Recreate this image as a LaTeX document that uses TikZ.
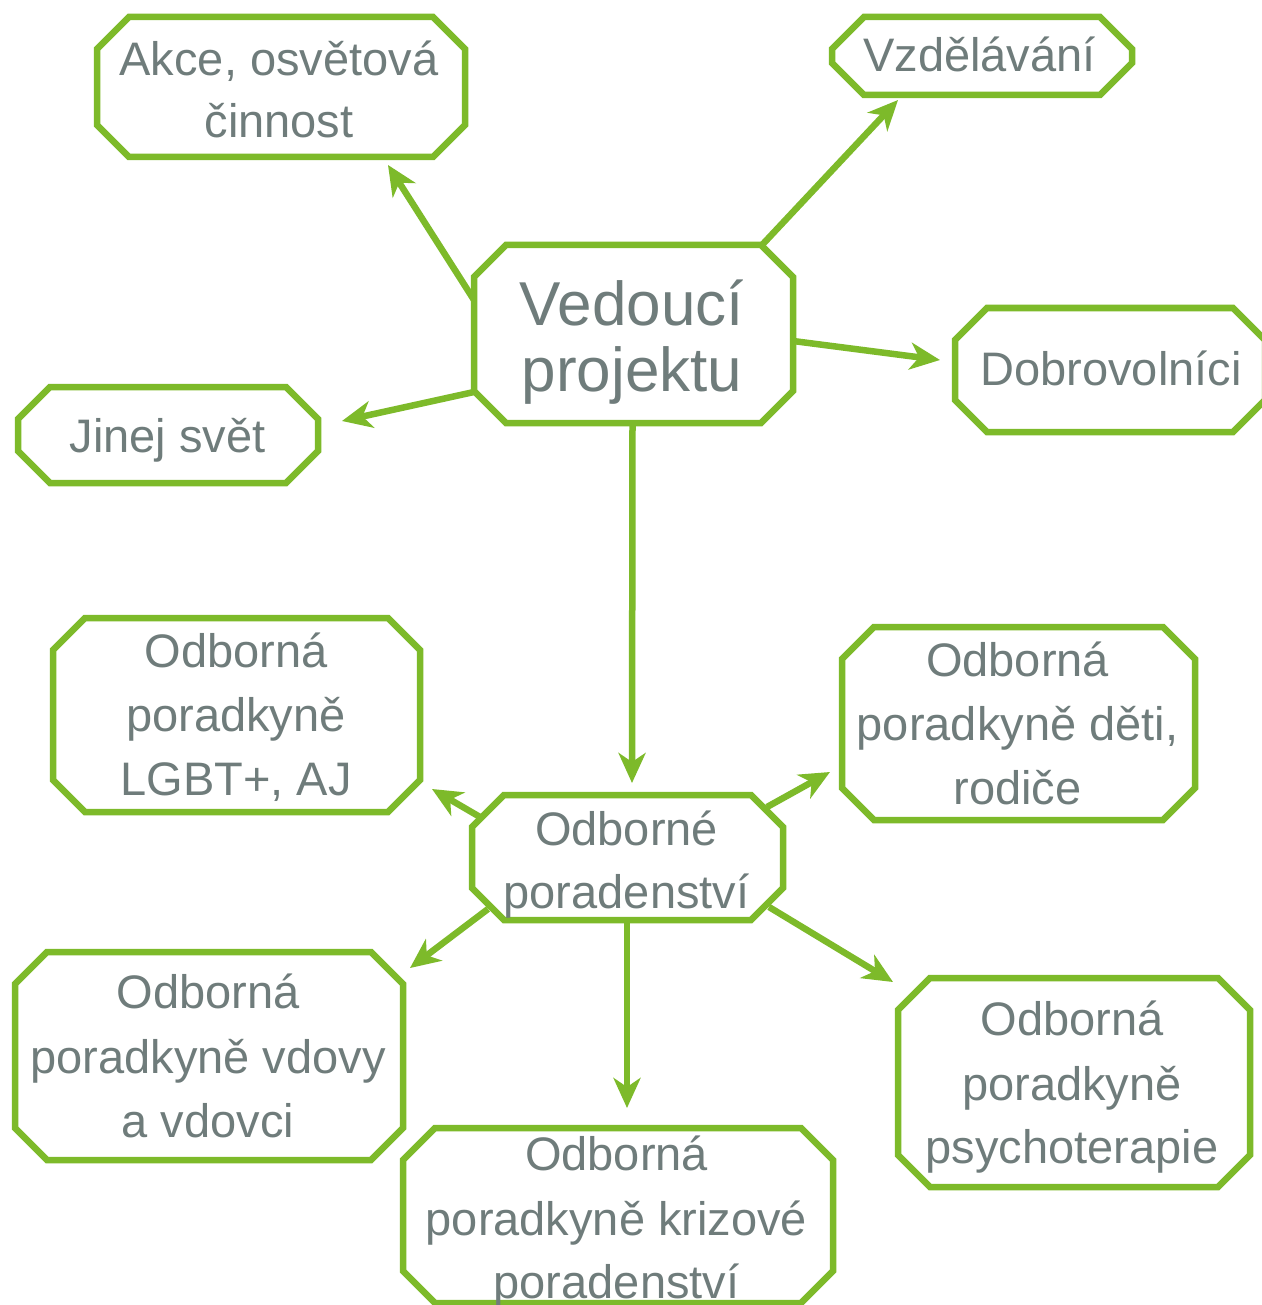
\documentclass[tikz,border=0pt]{standalone}
\usepackage{fontspec}
\setmainfont{Liberation Sans}
\usetikzlibrary{arrows.meta,calc}
\definecolor{grn}{RGB}{125,186,42}
\definecolor{txtgray}{RGB}{111,124,123}
\newcommand\octo[2][32pt]{%
  \draw[boxline] ($(#2.north west)+(#1,0pt)$) -- ($(#2.north east)+(-#1,0pt)$)
    -- ($(#2.north east)+(0pt,-#1)$) -- ($(#2.south east)+(0pt,#1)$)
    -- ($(#2.south east)+(-#1,0pt)$) -- ($(#2.south west)+(#1,0pt)$)
    -- ($(#2.south west)+(0pt,#1)$) -- ($(#2.north west)+(0pt,-#1)$) -- cycle;}
\begin{document}
\begin{tikzpicture}[x=1pt,y=-1pt,
  frame/.style 2 args={rectangle, draw=none, inner sep=0pt, outer sep=0pt,
    minimum width=#1, minimum height=#2},
  boxline/.style={draw=grn, fill=white, line width=6.5pt, line join=miter},
  txt/.style={font=\fontsize{47}{56}\selectfont, text=txtgray, anchor=base, inner sep=0pt},
  bigtxt/.style={font=\fontsize{62}{70}\selectfont, text=txtgray, anchor=base, inner sep=0pt},
  arr/.style={draw=grn, line width=6.5pt,
    -{Stealth[length=30pt,width=27pt,inset=9pt]}}]
\fill[white] (0,0) rectangle (1261,1305);
\useasboundingbox (0,0) rectangle (1261,1305);

% box frames
\node[frame={368pt}{140pt}] (akce) at (281,87) {};
\node[frame={300pt}{78pt}] (vzd) at (982,56) {};
\node[frame={319pt}{178pt}] (ved) at (633.5,334) {};
\node[frame={310pt}{124pt}] (dob) at (1110,370) {};
\node[frame={300pt}{96pt}] (jinej) at (168,435) {};
\node[frame={367pt}{194pt}] (lgbt) at (236.5,715) {};
\node[frame={353pt}{193pt}] (deti) at (1018.5,723.5) {};
\node[frame={311pt}{125pt}] (op) at (627.5,857.5) {};
\node[frame={388pt}{208pt}] (vdovy) at (209,1056) {};
\node[frame={352pt}{209pt}] (psy) at (1074,1082.5) {};
\node[frame={430pt}{175pt}] (kriz) at (618,1215.5) {};

% octagons
\octo{akce}
\octo{vzd}
\octo{ved}
\octo{dob}
\octo{jinej}
\octo{lgbt}
\octo{deti}
\octo{op}
\octo{vdovy}
\octo{psy}
\octo{kriz}

% connectors
\draw[arr] ($(ved.west)+(0pt,34pt)$) -- ($(akce.south east)+(-77pt,-8pt)$);
\draw[arr] ($(ved.north east)+(-31pt,0pt)$) -- ($(vzd.south west)+(66pt,-5pt)$);
\draw[arr] ($(ved.east)+(0pt,-7pt)$) -- ($(dob.west)+(-15pt,10pt)$);
\draw[arr] ($(ved.west)+(0pt,-58pt)$) -- ($(jinej.east)+(24pt,14pt)$);
\draw[arr] ($(ved.south)+(-1pt,0pt)$) -- ($(op.north)+(4.5pt,12pt)$);
\draw[arr] ($(op.north west)+(8pt,-22pt)$) -- ($(lgbt.south east)+(12pt,23pt)$);
\draw[arr] ($(op.north east)+(-16pt,-12pt)$) -- ($(deti.south west)+(-12pt,48pt)$);
\draw[arr] ($(op.south west)+(16pt,11pt)$) -- ($(vdovy.north east)+(7pt,-16pt)$);
\draw[arr] ($(op.south)+(-0.5pt,0pt)$) -- ($(kriz.north)+(9pt,20pt)$);
\draw[arr] ($(op.south east)+(-14pt,13pt)$) -- ($(psy.north west)+(-5pt,-4pt)$);

% texts
\node[txt] (akce1) at (279,76) {Akce, osvětová};
\node[txt] (akce2) at (279,138) {činnost};
\node[txt] (vzd1) at (979.5,72) {Vzdělávání};
\node[bigtxt] (ved1) at (632,325) {Vedoucí};
\node[bigtxt] (ved2) at (632,391) {projektu};
\node[txt] (dob1) at (1111,385) {Dobrovolníci};
\node[txt] (jinej1) at (167.5,452) {Jinej svět};
\node[txt] (lgbt1) at (236,667) {Odborná};
\node[txt] (lgbt2) at (236,731) {poradkyně};
\node[txt] (lgbt3) at (236,795) {LGBT+, AJ};
\node[txt] (deti1) at (1017.5,676) {Odborná};
\node[txt] (deti2) at (1017.5,740) {poradkyně děti,};
\node[txt] (deti3) at (1017.5,804) {rodiče};
\node[txt] (op1) at (626.5,845) {Odborné};
\node[txt] (op2) at (626.5,908) {poradenství};
\node[txt] (vdovy1) at (208,1008) {Odborná};
\node[txt] (vdovy2) at (208,1073) {poradkyně vdovy};
\node[txt] (vdovy3) at (208,1137) {a vdovci};
\node[txt] (psy1) at (1072,1035) {Odborná};
\node[txt] (psy2) at (1072,1100) {poradkyně};
\node[txt] (psy3) at (1072,1163) {psychoterapie};
\node[txt] (kriz1) at (616.5,1170) {Odborná};
\node[txt] (kriz2) at (616.5,1235) {poradkyně krizové};
\node[txt] (kriz3) at (616.5,1298) {poradenství};
\end{tikzpicture}
\end{document}
